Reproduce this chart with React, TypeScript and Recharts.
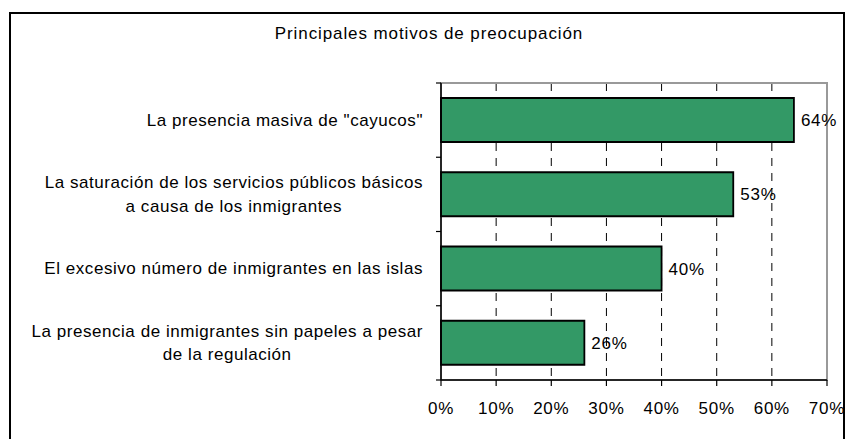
import * as React from "react";
import {
  Bar,
  BarChart,
  CartesianGrid,
  LabelList,
  ReferenceArea,
  XAxis,
  YAxis,
} from "recharts";

const title = "Principales motivos de preocupación";

const motivos = [
  ['La presencia masiva de "cayucos"'],
  ["La saturación de los servicios públicos básicos", "a causa de los inmigrantes"],
  ["El excesivo número de inmigrantes en las islas"],
  ["La presencia de inmigrantes sin papeles a pesar", "de la regulación"],
];
const porcentajes = [64, 53, 40, 26];
const xTicks = [0, 10, 20, 30, 40, 50, 60, 70];

const FONT = "'Liberation Sans', Arial, sans-serif";
const FS = 17;
const LS = 0.75;
const CAT_LS = 0.55;

const data = motivos.map((lines, i) => ({
  name: lines.join(" "),
  value: porcentajes[i],
}));

let ctx: CanvasRenderingContext2D | null = null;
function textWidth(s: string) {
  if (!ctx) ctx = document.createElement("canvas").getContext("2d");
  if (!ctx) return s.length * 8;
  ctx.font = `${FS}px 'Liberation Sans', Arial, sans-serif`;
  return ctx.measureText(s).width + CAT_LS * s.length;
}

// category labels, right-aligned as a block with centred lines; ticks sit on the band edges
function CategoryTick(props: any) {
  const { x, y, payload, index } = props;
  const lines = motivos[index] ?? [String(payload.value)];
  const half = payload.offset || 37;
  const axisX = x + 18;
  const maxW = Math.max(...lines.map(textWidth));
  const cx = x - maxW / 2;
  const lh = 23.5;
  return (
    <g>
      <line x1={axisX - 5} x2={axisX} y1={y - half} y2={y - half} stroke="#000" strokeWidth={1.2} />
      {index === motivos.length - 1 && (
        <line x1={axisX - 5} x2={axisX} y1={y + half} y2={y + half} stroke="#000" strokeWidth={1.2} />
      )}
      {lines.map((l, i) => (
        <text
          key={i}
          x={cx}
          y={y + (i - (lines.length - 1) / 2) * lh}
          textAnchor="middle"
          dominantBaseline="central"
          fontFamily={FONT}
          fontSize={FS}
          letterSpacing={CAT_LS}
          fill="#000"
        >
          {l}
        </text>
      ))}
    </g>
  );
}

export default function App() {
  return (
    <div style={{ position: "relative", width: 846, height: 439, overflow: "hidden" }}>
      <style>{"body{margin:0;overflow:hidden}"}</style>
      <div
        style={{
          position: "absolute",
          left: 9,
          top: 12,
          width: 836,
          height: 460,
          border: "2px solid #000",
          boxSizing: "border-box",
        }}
      />
      <div
        style={{
          position: "absolute",
          left: 229,
          width: 400,
          top: 24,
          lineHeight: "20px",
          textAlign: "center",
          fontFamily: FONT,
          fontSize: FS,
          letterSpacing: 0.9,
          color: "#000",
        }}
      >
        {title}
      </div>
      <div style={{ position: "absolute", left: 0, top: 0 }}>
        <BarChart
          width={846}
          height={439}
          data={data}
          layout="vertical"
          margin={{ top: 83, right: 19, bottom: 0, left: 0 }}
          barSize={44}
        >
          <CartesianGrid
            horizontal={false}
            stroke="#000"
            strokeDasharray="8 7"
          />
          <ReferenceArea x1={0} x2={70} fill="none" stroke="#999" strokeWidth={2} ifOverflow="visible" />
          <XAxis
            type="number"
            domain={[0, 70]}
            ticks={xTicks}
            interval={0}
            tickFormatter={(v) => `${v}%`}
            axisLine={{ stroke: "#000", strokeWidth: 1.5 }}
            tickLine={{ stroke: "#000", strokeWidth: 1.2 }}
            tickSize={6}
            tickMargin={16}
            height={59}
            tick={{ fill: "#000", fontSize: FS, fontFamily: FONT, letterSpacing: LS }}
          />
          <YAxis
            type="category"
            dataKey="name"
            width={441}
            axisLine={{ stroke: "#000", strokeWidth: 1.5 }}
            tickLine={false}
            tickSize={0}
            tickMargin={18}
            interval={0}
            tick={<CategoryTick />}
          />
          <Bar
            dataKey="value"
            fill="#339966"
            stroke="#000"
            strokeWidth={1.8}
            isAnimationActive={false}
          >
            <LabelList
              dataKey="value"
              position="right"
              offset={7}
              formatter={(v: any) => `${v}%`}
              fill="#000"
              fontSize={FS}
              fontFamily={FONT}
              letterSpacing={LS}
            />
          </Bar>
        </BarChart>
      </div>
    </div>
  );
}
